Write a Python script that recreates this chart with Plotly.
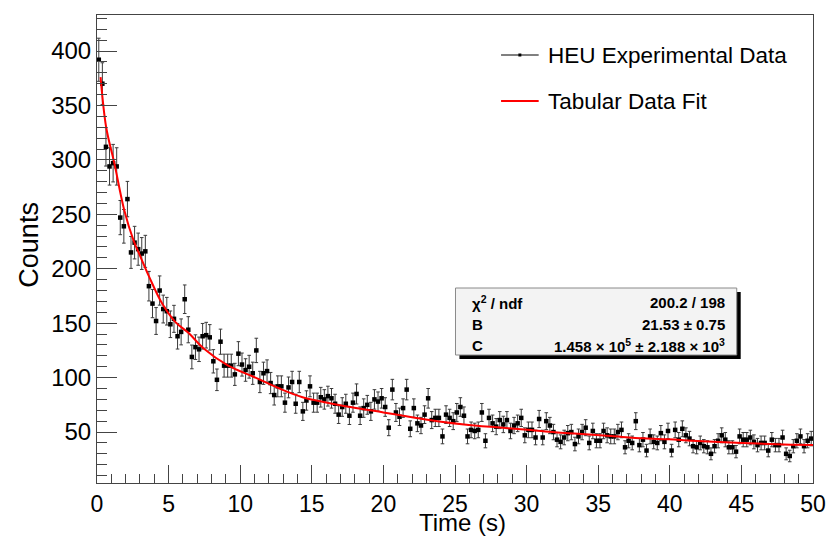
import numpy as np
import plotly.graph_objects as go

# ---------------- data ----------------
bin_width = 0.25
n_bins = 200
time_s = np.arange(n_bins) * bin_width + bin_width / 2

counts = [
    392, 370, 312, 294, 297, 294, 247, 239, 264, 215, 224, 218, 214, 216, 184, 168,
    152, 180, 163, 161, 149, 154, 138, 142, 172, 144,
    119, 128, 126, 138, 139, 137,
    115, 98, 133, 111, 111, 111, 103, 122, 112, 107, 110, 104, 125, 96, 104, 106,
    95, 84, 92, 92, 77, 91, 96, 76, 96, 69, 79, 92, 77, 77, 82, 80,
    83, 81, 76, 66, 73, 76, 65, 77, 85, 65, 72, 75, 69, 80, 78, 81,
    73, 54, 89, 68, 64, 72, 89, 53, 72, 58, 56, 66, 81, 61, 63, 63,
    46, 66, 63, 60, 68, 73, 65, 46, 52, 51, 52, 68, 42, 63, 58, 55,
    61, 57, 61, 51, 56, 58, 63, 47, 52, 52, 45, 62, 45, 60, 56, 50,
    43, 41, 45, 49, 50, 39, 46, 50, 54, 40, 51, 42, 42, 51, 47, 46,
    46, 50, 52, 36, 42, 40, 60, 38, 43, 33, 46, 41, 40,
    49, 41, 51, 33, 52, 43, 53, 47, 44, 37, 36, 40, 37, 36, 30, 37,
    42, 47, 43, 36, 36, 32, 46, 43, 43, 45, 41, 38, 40, 40, 33, 43,
    38, 38, 45, 30, 28, 37, 42, 46, 37, 42, 44,
]

fit_t = [0.25, 0.64, 1.21, 1.9, 2.55, 2.94, 3.63, 4.55, 5.48, 6.4, 7.43, 9.16,
         10.89, 12.74, 14.35, 16.08, 17.7, 20.0, 22.3, 24.03, 25.64, 27.95,
         30.26, 31.98, 33.6, 35.9, 38.2, 39.94, 41.55, 43.86, 46.16, 48.47, 50.0]
fit_counts = [376, 330, 297, 254, 226, 214, 193, 168, 151, 141, 127, 111,
              101, 90, 82, 77, 73, 68, 63, 59.5, 57, 54.3,
              51.8, 49.8, 48.4, 46.3, 44.2, 43.3, 42, 40.6, 39.4, 38.4, 38]

x_ticks = [0, 5, 10, 15, 20, 25, 30, 35, 40, 45, 50]
y_ticks = [50, 100, 150, 200, 250, 300, 350, 400]

legend_labels = ["HEU Experimental Data", "Tabular Data Fit"]
stats_rows = [
    ("χ<sup>2</sup> / ndf", "200.2 / 198"),
    ("B", "21.53 ± 0.75"),
    ("C", "1.458 × 10<sup>5</sup> ± 2.188 × 10<sup>3</sup>"),
]

# ---------------- layout geometry ----------------
W, H = 838, 536
L, R, T, B = 97, 18, 15, 53
PW, PH = W - L - R, H - T - B


def px(xp):
    return (xp - L) / PW


def py(yp):
    return (H - B - yp) / PH


FONT = "Liberation Sans, Arial, Helvetica, sans-serif"

fig = go.Figure()

fig.add_trace(go.Scatter(
    x=time_s, y=counts, mode="markers",
    marker=dict(symbol="square", size=4.5, color="black"),
    error_y=dict(type="sqrt", color="#3a3a3a", thickness=1, width=1.8),
    showlegend=False, hoverinfo="x+y",
))

fig.add_trace(go.Scatter(
    x=fit_t, y=fit_counts, mode="lines",
    line=dict(color="#ff0000", width=2, shape="spline", smoothing=1.0),
    showlegend=False,
))

shapes = []
annotations = []

# legend (drawn manually)
leg_rows = [55, 101]
shapes.append(dict(type="line", xref="paper", yref="paper",
                   x0=px(505), x1=px(543), y0=py(leg_rows[0]), y1=py(leg_rows[0]),
                   line=dict(color="black", width=1)))
shapes.append(dict(type="rect", xref="paper", yref="paper",
                   x0=px(522.5), x1=px(525.5), y0=py(leg_rows[0] + 1.5), y1=py(leg_rows[0] - 1.5),
                   fillcolor="black", line=dict(width=0)))
shapes.append(dict(type="line", xref="paper", yref="paper",
                   x0=px(505), x1=px(543), y0=py(leg_rows[1]), y1=py(leg_rows[1]),
                   line=dict(color="#ff0000", width=2)))
for lab, yy in zip(legend_labels, leg_rows):
    annotations.append(dict(text=lab, xref="paper", yref="paper",
                            x=px(550), y=py(yy), xanchor="left", yanchor="middle",
                            showarrow=False, font=dict(family=FONT, size=22.5, color="black")))

# stats box with shadow
bx0, bx1, by0, by1 = 459, 743, 288, 355
shapes.append(dict(type="rect", xref="paper", yref="paper",
                   x0=px(bx0 + 4), x1=px(bx1 + 4), y0=py(by1 + 4), y1=py(by0 + 4),
                   fillcolor="black", line=dict(width=0)))
shapes.append(dict(type="rect", xref="paper", yref="paper",
                   x0=px(bx0), x1=px(bx1), y0=py(by1), y1=py(by0),
                   fillcolor="#f3f3f3", line=dict(color="#8a8a8a", width=1)))
row_y = [302, 324, 346]
for (lt, rt), yy in zip(stats_rows, row_y):
    annotations.append(dict(text="<b>" + lt + "</b>", xref="paper", yref="paper",
                            x=px(474), y=py(yy), xanchor="left", yanchor="middle",
                            showarrow=False, font=dict(family=FONT, size=15, color="black")))
    annotations.append(dict(text="<b>" + rt + "</b>", xref="paper", yref="paper",
                            x=px(733), y=py(yy), xanchor="right", yanchor="middle",
                            showarrow=False, font=dict(family=FONT, size=15, color="black")))

# axis titles
annotations.append(dict(text="Counts", xref="paper", yref="paper",
                        x=px(28), y=py(245), xanchor="center", yanchor="middle",
                        textangle=-90, showarrow=False,
                        font=dict(family=FONT, size=27, color="black")))
annotations.append(dict(text="Time (s)", xref="paper", yref="paper",
                        x=px(466), y=py(522), xanchor="center", yanchor="middle",
                        showarrow=False, font=dict(family=FONT, size=24, color="black")))

fig.update_layout(
    width=W, height=H,
    margin=dict(l=L, r=R, t=T, b=B, pad=0),
    paper_bgcolor="white", plot_bgcolor="white",
    font=dict(family=FONT, color="black", size=24),
    shapes=shapes, annotations=annotations,
    showlegend=False,
)

fig.update_xaxes(
    range=[0, 50], tickvals=x_ticks, ticktext=[str(v) for v in x_ticks],
    ticks="inside", ticklen=18, tickwidth=1, tickcolor="#444444",
    minor=dict(ticks="inside", ticklen=9, dtick=1, tickcolor="#444444", tickwidth=1),
    showline=True, linecolor="#444444", linewidth=1, mirror=True,
    showgrid=False, zeroline=False,
    tickfont=dict(family=FONT, size=23, color="black"),
)
fig.update_yaxes(
    range=[3.2, 433.1], tickvals=y_ticks, ticktext=[str(v) for v in y_ticks],
    ticks="inside", ticklen=20, tickwidth=1, tickcolor="#444444",
    minor=dict(ticks="inside", ticklen=10, dtick=10, tick0=0, tickcolor="#444444", tickwidth=1),
    showline=True, linecolor="#444444", linewidth=1, mirror=True,
    showgrid=False, zeroline=False,
    tickfont=dict(family=FONT, size=24, color="black"),
)

fig.write_html("out.html")
